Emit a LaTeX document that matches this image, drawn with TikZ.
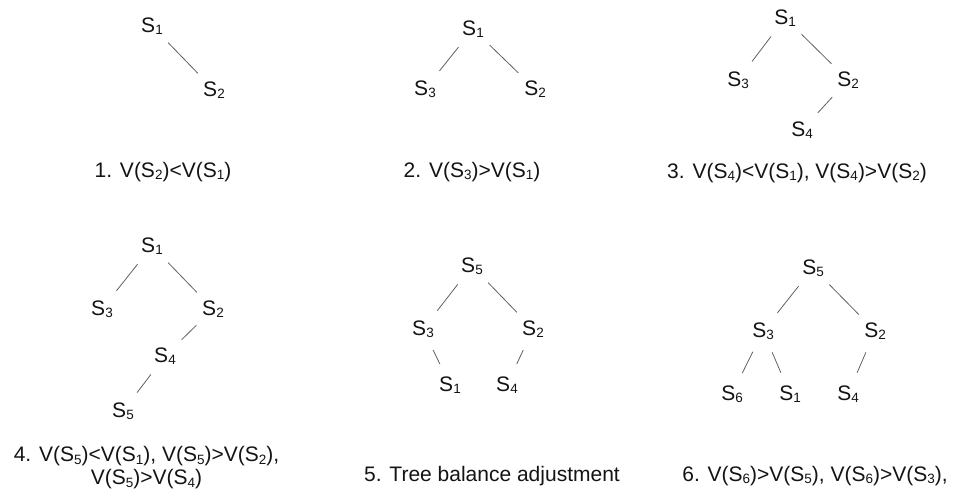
\documentclass[tikz,border=0pt]{standalone}
\usepackage{fontspec}
\setmainfont{Liberation Sans}
\definecolor{linecol}{gray}{0.38}
\definecolor{txtcol}{gray}{0.08}
\newcommand\sbs[1]{\raisebox{-0.12em}{\fontsize{13.5}{14}\selectfont #1}}
\begin{document}
\begin{tikzpicture}[x=1pt,y=-1pt,
  nd/.style={circle,inner sep=0pt,minimum size=46pt,text=txtcol,font=\fontsize{21}{24}\selectfont},
  lbl/.style={inner sep=0pt,text=txtcol,align=center,font=\fontsize{21}{23}\selectfont},
  edge/.style={draw=linecol,line width=0.8pt}]
\useasboundingbox[fill=white] (0,0) rectangle (958,499);
% Panel 1
\node[nd] (a1) at (152,26) {S\sbs{1}};
\node[nd] (a2) at (214,90) {S\sbs{2}};
\draw[edge] (a1) -- (a2);
\node[lbl] (la) at (163,172) {1. V(S\sbs{2})<V(S\sbs{1})};
% Panel 2
\node[nd] (b1) at (473,29) {S\sbs{1}};
\node[nd] (b3) at (425,89) {S\sbs{3}};
\node[nd] (b2) at (535,89) {S\sbs{2}};
\draw[edge] (b1) -- (b3);
\draw[edge] (b1) -- (b2);
\node[lbl] (lb) at (472,172) {2. V(S\sbs{3})>V(S\sbs{1})};
% Panel 3
\node[nd] (c1) at (785,18) {S\sbs{1}};
\node[nd] (c3) at (738,80) {S\sbs{3}};
\node[nd] (c2) at (848,80) {S\sbs{2}};
\node[nd] (c4) at (802,130) {S\sbs{4}};
\draw[edge] (c1) -- (c3);
\draw[edge] (c1) -- (c2);
\draw[edge] (c2) -- (c4);
\node[lbl] (lc) at (797,173) {3. V(S\sbs{4})<V(S\sbs{1}), V(S\sbs{4})>V(S\sbs{2})};
% Panel 4
\node[nd] (d1) at (152,246) {S\sbs{1}};
\node[nd] (d3) at (102,309) {S\sbs{3}};
\node[nd] (d2) at (213,309) {S\sbs{2}};
\node[nd] (d4) at (165,356) {S\sbs{4}};
\node[nd] (d5) at (123,411) {S\sbs{5}};
\draw[edge] (d1) -- (d3);
\draw[edge] (d1) -- (d2);
\draw[edge] (d2) -- (d4);
\draw[edge] (d4) -- (d5);
\node[lbl] (ld) at (146.5,468) {4. V(S\sbs{5})<V(S\sbs{1}), V(S\sbs{5})>V(S\sbs{2}),\\V(S\sbs{5})>V(S\sbs{4})};
% Panel 5
\node[nd] (e5) at (472,266) {S\sbs{5}};
\node[nd] (e3) at (423,329) {S\sbs{3}};
\node[nd] (e2) at (533,329) {S\sbs{2}};
\node[nd] (e1) at (450,385) {S\sbs{1}};
\node[nd] (e4) at (507,385) {S\sbs{4}};
\draw[edge] (e5) -- (e3);
\draw[edge] (e5) -- (e2);
\draw[edge] (e3) -- (e1);
\draw[edge] (e2) -- (e4);
\node[lbl] (le) at (492,476) {5. Tree balance adjustment};
% Panel 6
\node[nd] (f5) at (813,268) {S\sbs{5}};
\node[nd] (f3) at (763,331) {S\sbs{3}};
\node[nd] (f2) at (875,331) {S\sbs{2}};
\node[nd] (f6) at (732,394) {S\sbs{6}};
\node[nd] (f1) at (790,394) {S\sbs{1}};
\node[nd] (f4) at (848,394) {S\sbs{4}};
\draw[edge] (f5) -- (f3);
\draw[edge] (f5) -- (f2);
\draw[edge] (f3) -- (f6);
\draw[edge] (f3) -- (f1);
\draw[edge] (f2) -- (f4);
\node[lbl] (lf) at (815,476) {6. V(S\sbs{6})>V(S\sbs{5}), V(S\sbs{6})>V(S\sbs{3}),};
\end{tikzpicture}
\end{document}
